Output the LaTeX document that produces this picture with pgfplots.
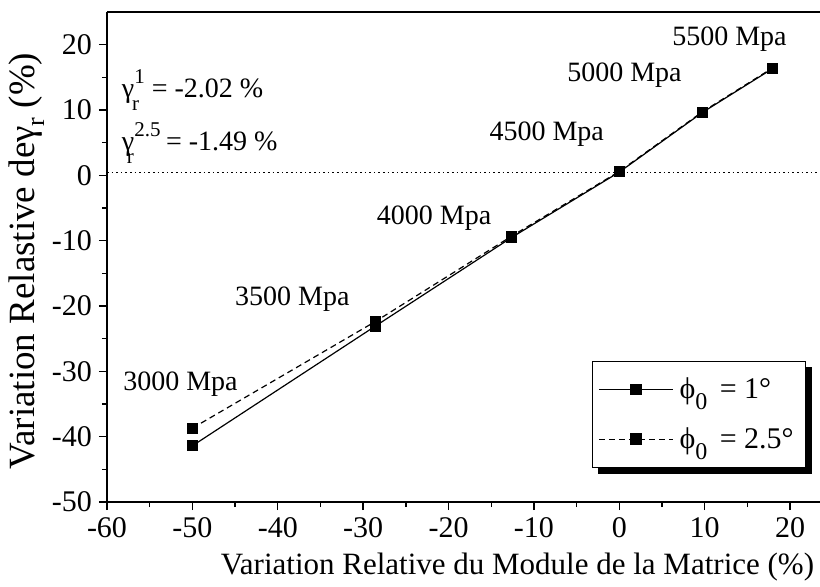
\documentclass[border=0pt]{standalone}
\usepackage{pgfplots}
\pgfplotsset{compat=1.18}
\usepackage{fontspec}
\setmainfont{Liberation Serif}
\setmathrm{Liberation Serif}

\newcommand\lbl{\fontsize{14pt}{16pt}\selectfont}

\begin{document}
\begin{tikzpicture}
\begin{axis}[
  name=ax,
  width=356.5pt, height=245pt,
  scale only axis,
  xmin=-60, xmax=23.5,
  ymin=-50, ymax=25,
  axis x line*=box, axis y line*=left,
  xtick={-60,-50,...,20}, ytick={-50,-40,...,20},
  minor x tick num=1, minor y tick num=1,
  xtick pos=bottom, ytick pos=left,
  tick align=outside,
  major tick length=4pt, minor tick length=2.5pt,
  axis line style={line width=0.9pt},
  every tick/.style={black, line width=0.7pt},
  tick label style={font=\fontsize{15pt}{17pt}\selectfont},
  /pgf/number format/assume math mode=true,
  xlabel={Variation Relative du Module de la Matrice (\%)},
  ylabel={Variation Relastive de{γ}\raisebox{-0.6ex}{\fontsize{13pt}{14pt}\selectfont r} (\%)},
  xlabel style={font=\fontsize{15.5pt}{18pt}\selectfont, xshift=27pt, yshift=-1pt},
  ylabel style={font=\fontsize{18.5pt}{20pt}\selectfont, yshift=-3pt, xshift=-2pt},
  legend cell align=left,
  legend style={name=leg, at={(axis cs:21.9,-28.4)}, anchor=north east,
    draw=black, line width=0.6pt, fill=white,
    font=\fontsize{15pt}{17pt}\selectfont,
    row sep=9pt, inner xsep=3pt, inner ysep=6pt,
    nodes={inner xsep=3pt}},
  legend image code/.code={
    \draw[#1, mark=none] (0cm,0cm) -- (1.3cm,0cm);
    \draw[black, fill=black, solid] (0.56cm,-0.09cm) rectangle (0.74cm,0.09cm);
  },
]
% dotted reference line
\addplot[black, line width=0.7pt, dash pattern=on 0.8pt off 1.5pt, forget plot]
  coordinates {(-60,0.4) (23.5,0.4)};

\addplot[black, line width=0.6pt, mark=square*, mark size=2.4pt]
  coordinates {(-50,-41.4) (-28.6,-23.1) (-12.6,-9.5) (0,0.5) (9.7,9.6) (17.9,16.3)};
\addlegendentry{ϕ\raisebox{-0.8ex}{\fontsize{12pt}{13pt}\selectfont 0}\, = 1°}

\addplot[black, line width=0.6pt, dash pattern=on 3pt off 2pt, mark=square*, mark size=2.4pt,
  mark options={solid}]
  coordinates {(-50,-38.7) (-28.6,-22.4) (-12.6,-9.3) (0,0.6) (9.7,9.7) (17.9,16.4)};
\addlegendentry{ϕ\raisebox{-0.8ex}{\fontsize{12pt}{13pt}\selectfont 0}\, = 2.5°}

\node[font=\lbl] at (axis cs:-51.4,-31.9) {3000 Mpa};
\node[font=\lbl] at (axis cs:-38.3,-18.9) {3500 Mpa};
\node[font=\lbl] at (axis cs:-21.7,-6.6) {4000 Mpa};
\node[font=\lbl] at (axis cs:-8.5,6.3) {4500 Mpa};
\node[font=\lbl] at (axis cs:0.6,15.4) {5000 Mpa};
\node[font=\lbl] at (axis cs:12.9,20.9) {5500 Mpa};

\node[anchor=west, inner sep=0pt, font=\lbl] at (axis cs:-58.3,13.1)
  {γ\raisebox{1.1ex}{\fontsize{10.5pt}{11pt}\selectfont 1}\hspace{-0.45em}\raisebox{-1.0ex}{\fontsize{10.5pt}{11pt}\selectfont r}\hspace{0.2em} = -2.02 \%};
\node[anchor=west, inner sep=0pt, font=\lbl] at (axis cs:-58.3,5.0)
  {γ\raisebox{1.1ex}{\fontsize{10.5pt}{11pt}\selectfont 2.5}\hspace{-1.2em}\raisebox{-1.0ex}{\fontsize{10.5pt}{11pt}\selectfont r}\hspace{0.9em} = -1.49 \%};
\end{axis}
% legend shadow
\fill[black] ([yshift=-3pt]leg.north east) rectangle ([xshift=3pt,yshift=-3pt]leg.south east);
\fill[black] ([xshift=3pt]leg.south west) rectangle ([xshift=3pt,yshift=-3pt]leg.south east);
\pgfresetboundingbox
\path (ax.south west) ++(-53.5pt,-42pt) rectangle ++(410pt,293pt);
\end{tikzpicture}
\end{document}
